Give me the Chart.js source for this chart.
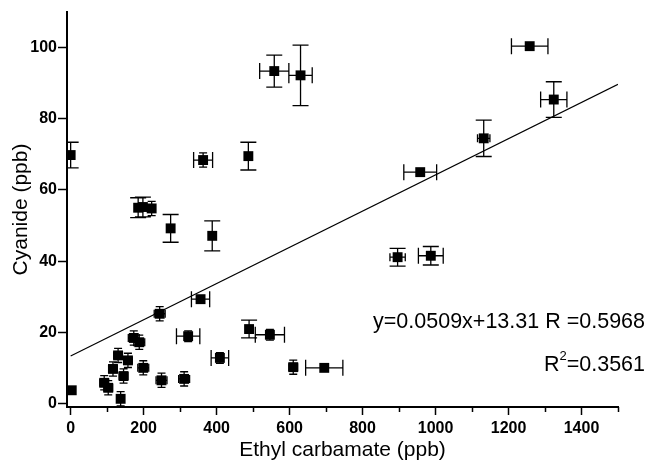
<!DOCTYPE html>
<html>
<head>
<meta charset="utf-8">
<script src="https://cdn.jsdelivr.net/npm/chart.js@4/dist/chart.umd.min.js"></script>
<style>
  body { margin: 0; background: #fff; }
  #cn-chart { display: block; }
</style>
</head>
<body>
<canvas id="cn-chart" width="651" height="470"></canvas>
<script>
// Ethyl carbamate vs cyanide, one entry per sample (ppb)
const carbamate = [0, 3, 185, 198, 222, 274, 388, 363, 487, 558, 630, 1258, 1324, 1132, 958, 896, 987,
    356, 244, 173, 188, 322, 489, 546, 409, 610, 695, 130, 157, 116, 199, 145, 92, 103, 249, 311, 137];
const cyanide = [69.8, 3.7, 55.0, 55.2, 54.8, 49.2, 47.1, 68.4, 69.5, 93.4, 92.2, 100.4, 85.4, 74.5, 65.0, 41.1, 41.5,
    29.3, 25.2, 18.4, 17.2, 18.9, 20.9, 19.3, 12.8, 10.2, 10.0, 13.5, 12.1, 9.7, 10.0, 7.7, 5.8, 4.4, 6.5, 6.9, 1.3];
// half widths of the error bars
const carbamateErr = [0, 8, 8, 8, 10, 6, 6, 26, 6, 40, 32, 50, 36, 17, 45, 21, 34,
    25, 15, 15, 15, 32, 10, 40, 24, 12, 51, 12, 12, 12, 15, 12, 12, 12, 15, 15, 10];
const cyanideErr = [3.6, 1, 2.8, 2.8, 2, 3.9, 4.2, 2, 3.9, 4.5, 8.5, 1, 5, 5.1, 1, 2.5, 2.6,
    1, 2, 2, 2, 1.5, 2.5, 1.5, 1.5, 2, 1, 2, 2, 2, 2, 2, 2, 2, 2, 2, 2];

// linear fit end points, y=0.0509x+13.31
const fitX = [0, 1500];
const fitY = [13.31, 89.66];

const xTicks = [0, 200, 400, 600, 800, 1000, 1200, 1400];
const xMinorTicks = [100, 300, 500, 700, 900, 1100, 1300, 1500];
const yTicks = [0, 20, 40, 60, 80, 100];

const fitText = 'y=0.0509x+13.31 R =0.5968';
const r2Value = '=0.3561';

const FONT = '"Liberation Sans", Arial, Helvetica, sans-serif';

// Chart.js has no error bars, so draw them with the scales before the squares go on top
const errorBarPlugin = {
    id: 'errorBars',
    beforeDatasetsDraw(chart) {
        const ctx = chart.ctx;
        const xs = chart.scales.x;
        const ys = chart.scales.y;
        const area = chart.chartArea;
        ctx.save();
        // nothing left of the y axis
        ctx.beginPath();
        ctx.rect(area.left, 0, chart.width - area.left, chart.height);
        ctx.clip();
        ctx.strokeStyle = '#000';
        ctx.lineWidth = 1.3;
        ctx.beginPath();
        for (let i = 0; i < carbamate.length; i++) {
            const px = xs.getPixelForValue(carbamate[i]);
            const py = ys.getPixelForValue(cyanide[i]);
            if (carbamateErr[i] > 0) {
                const x0 = xs.getPixelForValue(carbamate[i] - carbamateErr[i]);
                const x1 = xs.getPixelForValue(carbamate[i] + carbamateErr[i]);
                // short bars get short caps, they read as little crosses
                const cap = (x1 - x0) < 16 ? 4 : 8;
                ctx.moveTo(x0, py); ctx.lineTo(x1, py);
                ctx.moveTo(x0, py - cap); ctx.lineTo(x0, py + cap);
                ctx.moveTo(x1, py - cap); ctx.lineTo(x1, py + cap);
            }
            if (cyanideErr[i] > 0) {
                const y0 = ys.getPixelForValue(cyanide[i] - cyanideErr[i]);
                const y1 = ys.getPixelForValue(cyanide[i] + cyanideErr[i]);
                const cap = (y0 - y1) < 16 ? 4 : 8;
                ctx.moveTo(px, y0); ctx.lineTo(px, y1);
                ctx.moveTo(px - cap, y0); ctx.lineTo(px + cap, y0);
                ctx.moveTo(px - cap, y1); ctx.lineTo(px + cap, y1);
            }
        }
        ctx.stroke();
        ctx.restore();
    }
};

// minor x ticks are shorter than the labelled ones
const minorTickPlugin = {
    id: 'minorTicks',
    afterDraw(chart) {
        const ctx = chart.ctx;
        const xs = chart.scales.x;
        ctx.save();
        ctx.strokeStyle = '#000';
        ctx.lineWidth = 1.5;
        ctx.beginPath();
        xMinorTicks.forEach(v => {
            const px = Math.round(xs.getPixelForValue(v)) + 0.5;
            ctx.moveTo(px, xs.top);
            ctx.lineTo(px, xs.top + 5);
        });
        ctx.stroke();
        ctx.restore();
    }
};

// regression text in the lower right corner
const fitLabelPlugin = {
    id: 'fitLabel',
    afterDraw(chart) {
        const ctx = chart.ctx;
        const right = 645;
        ctx.save();
        ctx.fillStyle = '#000';
        ctx.textBaseline = 'alphabetic';
        ctx.font = '21.5px ' + FONT;
        ctx.textAlign = 'right';
        ctx.fillText(fitText, right, 328);

        // R² drawn piece by piece so the 2 can be raised
        const restW = ctx.measureText(r2Value).width;
        ctx.fillText(r2Value, right, 371);
        ctx.font = '13px ' + FONT;
        const supW = ctx.measureText('2').width;
        ctx.fillText('2', right - restW, 360);
        ctx.font = '21.5px ' + FONT;
        ctx.fillText('R', right - restW - supW, 371);
        ctx.restore();
    }
};

function buildChart(canvasId) {
    const ctx = document.getElementById(canvasId).getContext('2d');

    const points = carbamate.map((x, i) => ({ x: x, y: cyanide[i] }));
    const fitLine = fitX.map((x, i) => ({ x: x, y: fitY[i] }));

    const data = {
        datasets: [
            {
                type: 'scatter',
                data: points,
                pointStyle: 'rect',
                pointRadius: 7,
                backgroundColor: '#000',
                borderColor: '#000',
                borderWidth: 0
            },
            {
                type: 'line',
                data: fitLine,
                borderColor: '#000',
                borderWidth: 1.2,
                pointRadius: 0,
                fill: false
            }
        ]
    };

    const tickFont = { family: FONT, size: 16, weight: 'bold' };
    const titleFont = { family: FONT, size: 21 };

    const options = {
        responsive: false,
        animation: false,
        layout: { padding: { top: 12, right: 33, left: 0, bottom: 0 } },
        plugins: {
            legend: { display: false },
            tooltip: { enabled: false }
        },
        scales: {
            x: {
                type: 'linear',
                min: -10,
                max: 1500,
                afterBuildTicks: (scale) => { scale.ticks = xTicks.map(v => ({ value: v })); },
                afterFit: (scale) => { scale.height = 63; },
                border: { color: '#000', width: 2 },
                grid: { drawOnChartArea: false, drawTicks: true, tickLength: 8, tickColor: '#000', tickWidth: 1.5 },
                ticks: { color: '#000', font: tickFont, padding: 4, maxRotation: 0, callback: (v) => String(v) },
                title: { display: true, text: 'Ethyl carbamate (ppb)', color: '#000', font: titleFont, padding: { top: 0, bottom: 7 } }
            },
            y: {
                type: 'linear',
                min: -1,
                max: 110,
                afterBuildTicks: (scale) => { scale.ticks = yTicks.map(v => ({ value: v })); },
                afterFit: (scale) => { scale.width = 67; },
                border: { color: '#000', width: 2 },
                grid: { drawOnChartArea: false, drawTicks: true, tickLength: 9, tickColor: '#000', tickWidth: 1.5 },
                ticks: { color: '#000', font: tickFont, padding: 1, callback: (v) => String(v) },
                title: { display: true, text: 'Cyanide (ppb)', color: '#000', font: titleFont, padding: { top: 9, bottom: 0 } }
            }
        }
    };

    return new Chart(ctx, {
        type: 'scatter',
        data: data,
        options: options,
        plugins: [errorBarPlugin, minorTickPlugin, fitLabelPlugin]
    });
}

buildChart('cn-chart');
</script>
</body>
</html>
